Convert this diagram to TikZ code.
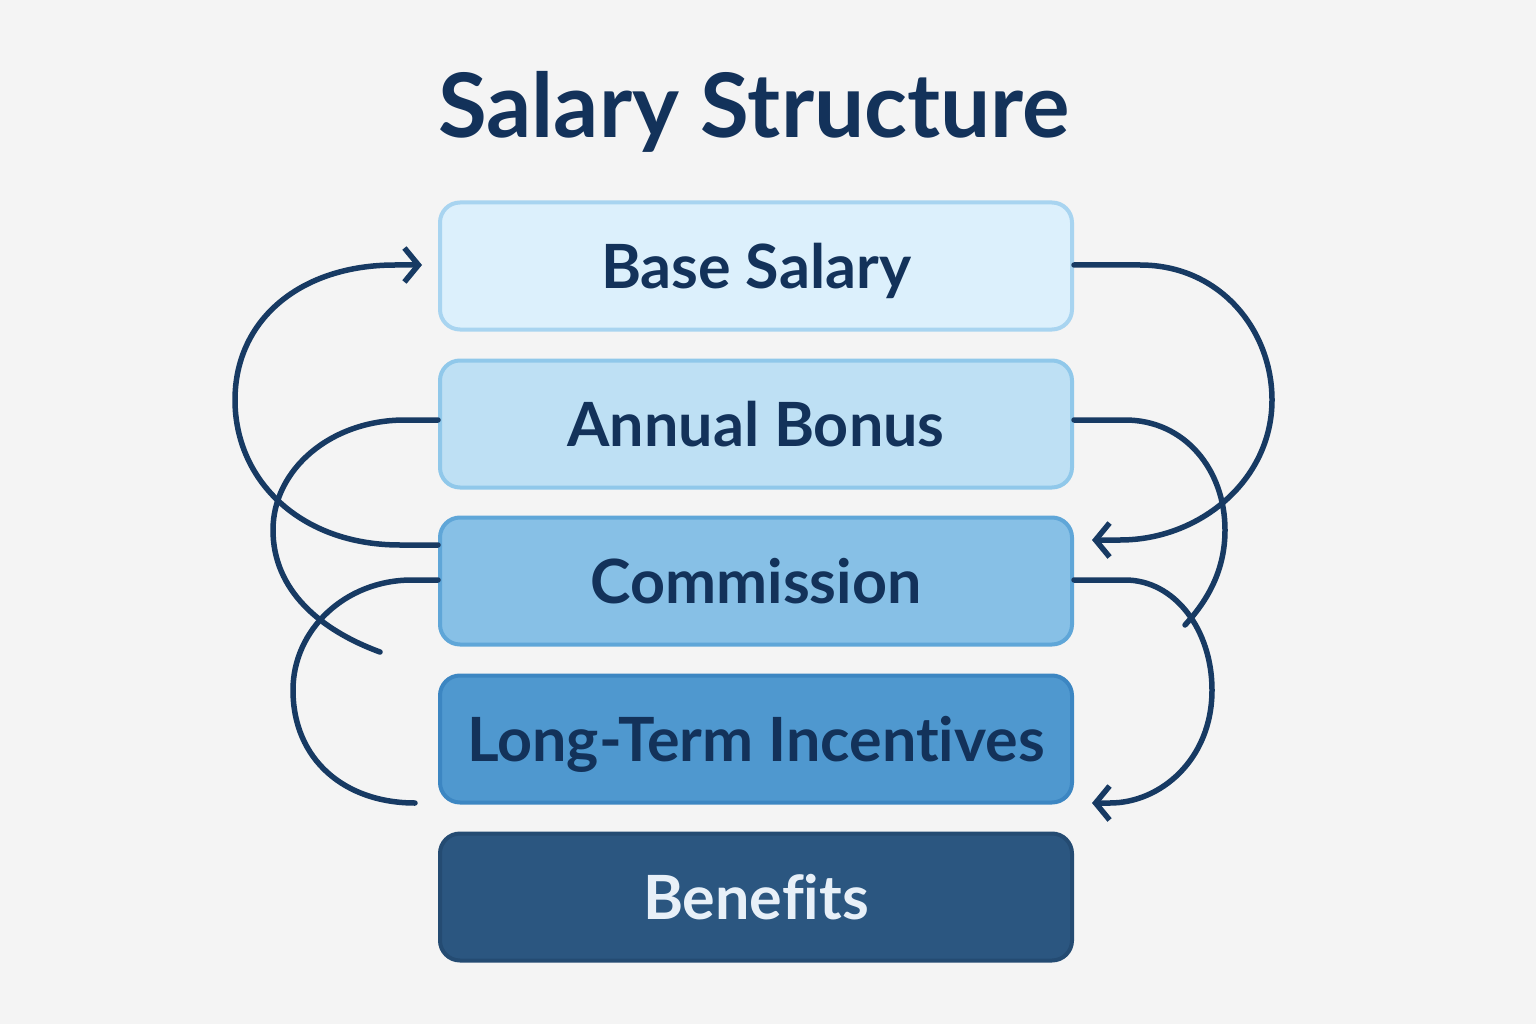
\documentclass[tikz,border=0pt]{standalone}
\usepackage{fontspec}
\setmainfont{Lato}[Ligatures=CommonOff]
\usetikzlibrary{arrows.meta,calc}
\definecolor{bg}{HTML}{F4F4F4}
\definecolor{ink}{HTML}{13325A}
\definecolor{wire}{HTML}{173A63}
\definecolor{fA}{HTML}{DCF0FC}\definecolor{dA}{HTML}{A8D4F0}
\definecolor{fB}{HTML}{BEE0F4}\definecolor{dB}{HTML}{90C8EA}
\definecolor{fC}{HTML}{87C0E6}\definecolor{dC}{HTML}{5FA6D8}
\definecolor{fD}{HTML}{4F98CF}\definecolor{dD}{HTML}{3C86C2}
\definecolor{fE}{HTML}{2B5680}\definecolor{dE}{HTML}{244B72}
\definecolor{lite}{HTML}{E8F0F8}
\tikzset{
  tier/.style={draw, line width=4pt, rounded corners=20pt, minimum width=632pt, minimum height=127pt, inner sep=0pt, text height=50pt, text depth=6pt, text=ink, font=\fontsize{61}{66}\selectfont\bfseries},
  wirestyle/.style={draw=wire, line width=5.5pt, line cap=round},
  tip/.style={-{Straight Barb[length=14pt,width=34pt,line width=5.5pt]}}
}
\begin{document}
\begin{tikzpicture}[x=1pt,y=-1pt]
\fill[bg] (0,0) rectangle (1536,1024);
\useasboundingbox (0,0) rectangle (1536,1024);
\node[text=ink, font=\fontsize{89}{96}\selectfont\bfseries] (title) at (754,112) {Salary Structure};
\node[tier, fill=fA, draw=dA] (bs) at (756,266) {Base Salary};
\node[tier, fill=fB, draw=dB] (ab) at (756,424) {Annual Bonus};
\node[tier, fill=fC, draw=dC] (cm) at (756,581) {Commission};
\node[tier, fill=fD, draw=dD] (lt) at (756,739) {Long-Term Incentives};
\node[tier, fill=fE, draw=dE, text=lite] (bf) at (756,897) {Benefits};
\coordinate (endB) at (380,652);
\coordinate (endC) at (415,803);
\coordinate (endE) at (1185,625);
% left connectors
\draw[wirestyle, tip] ($(cm.west)+(0,-36)$) -- (400,545) .. controls (300,545) and (235,480) .. (235,400) .. controls (235,320) and (300,265) .. (395,265) -- ($(bs.west)+(-16,-1)$);
\draw[wirestyle] ($(ab.west)+(0,-4)$) -- (405,420) .. controls (330,420) and (273,470) .. (273,530) .. controls (273,590) and (320,630) .. (endB);
\draw[wirestyle] ($(cm.west)+(0,-1)$) -- (412,580) .. controls (345,580) and (293,630) .. (293,690) .. controls (293,760) and (345,803) .. (endC);
% right connectors
\draw[wirestyle, tip] ($(bs.east)+(0,-1)$) -- (1140,265) .. controls (1220,265) and (1272,330) .. (1272,400) .. controls (1272,480) and (1200,540) .. (1120,540) -- ($(cm.east)+(18,-41)$);
\draw[wirestyle] ($(ab.east)+(0,-4)$) -- (1125,420) .. controls (1185,420) and (1225,470) .. (1225,530) .. controls (1225,570) and (1208,600) .. (endE);
\draw[wirestyle, tip] ($(cm.east)+(0,-1)$) -- (1125,580) .. controls (1175,580) and (1212,630) .. (1212,690) .. controls (1212,760) and (1160,803) .. (1110,803) -- ($(lt.east)+(18,64)$);
\end{tikzpicture}
\end{document}
